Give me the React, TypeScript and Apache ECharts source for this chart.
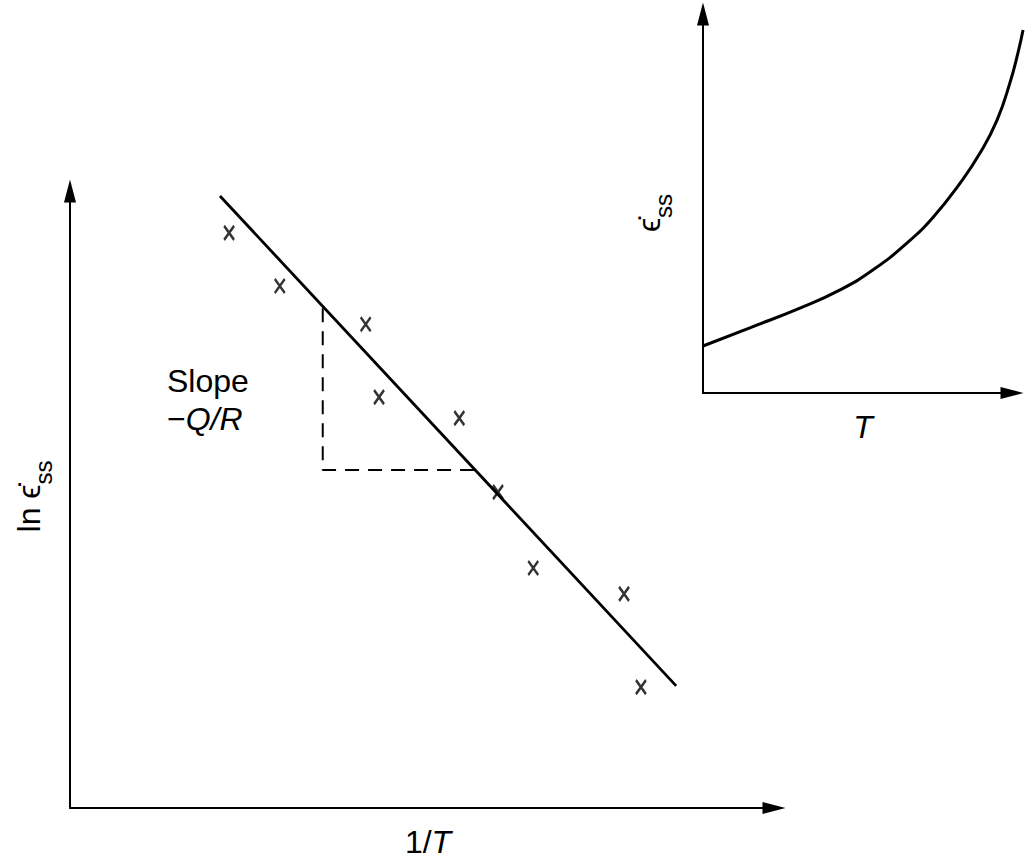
import { useEffect, useRef } from 'react';
import * as echarts from 'echarts';

// main plot: ln(strain rate) against 1/T, arbitrary units 0..100 on both axes
const fitLine = [
  [21.3, 99.2],
  [86.1, 19.8],
];
const dataPoints = [
  [22.6, 93.2],
  [29.8, 84.6],
  [42.0, 78.4],
  [43.9, 66.6],
  [55.3, 63.2],
  [60.8, 51.2],
  [65.8, 38.9],
  [78.7, 34.7],
  [81.1, 19.6],
];
// dashed slope triangle (top of vertical leg, corner, end of horizontal leg)
const slopeGuide = [
  [35.9, 81.0],
  [35.9, 54.8],
  [57.5, 54.8],
];
// inset: strain rate against T (curve runs a little past the T arrow)
const insetCurve = [
  [0, 12.4],
  [14.6, 17.2],
  [30.2, 22.4],
  [42.7, 27.2],
  [53.0, 32.5],
  [63.6, 39.6],
  [71.7, 46.4],
  [80.1, 55.4],
  [86.3, 63.3],
  [91.6, 72.0],
  [95.6, 81.8],
  [98.1, 89.7],
  [99.7, 95.8],
];

const FONT = 'Liberation Sans, Arial, sans-serif';

const axisLine = {
  show: true,
  onZero: false,
  symbol: ['none', 'triangle'],
  symbolSize: [12, 23],
  lineStyle: { color: '#000', width: 2 },
};

const bare = {
  type: 'value' as const,
  min: 0,
  max: 100,
  axisLine,
  axisTick: { show: false },
  axisLabel: { show: false },
  splitLine: { show: false },
  nameLocation: 'middle' as const,
};

const hidden = {
  type: 'value' as const,
  min: 0,
  max: 100,
  show: false,
  gridIndex: 2,
};

const epsRich = {
  m: { fontSize: 32, fontFamily: FONT, color: '#000' },
  s: { fontSize: 24, fontFamily: FONT, color: '#000', padding: [28, 0, 0, 0] },
};

const App = () => {
  const divRef = useRef<HTMLDivElement | null>(null);

  useEffect(() => {
    if (!divRef.current) return;
    const chart = echarts.init(divRef.current, null, { renderer: 'svg' });

    chart.setOption({
      animation: false,
      grid: [
        { left: 70, top: 191, width: 704, height: 617 },
        { left: 703, top: 14, width: 309, height: 379 },
        // curve of the inset, a bit wider than its axes
        { left: 703, top: 14, width: 321, height: 379 },
      ],
      xAxis: [
        {
          ...bare,
          gridIndex: 0,
          name: '{r|1/}{i|T}',
          nameGap: 18,
          nameTextStyle: {
            padding: [0, 0, 0, 12],
            rich: {
              r: { fontSize: 32, fontFamily: FONT, color: '#000' },
              i: { fontSize: 32, fontFamily: FONT, color: '#000', fontStyle: 'italic' },
            },
          },
        },
        {
          ...bare,
          gridIndex: 1,
          name: 'T',
          nameGap: 18,
          nameTextStyle: {
            fontSize: 32,
            fontFamily: FONT,
            fontStyle: 'italic',
            color: '#000',
            padding: [0, 0, 0, 11],
          },
        },
        hidden,
      ],
      yAxis: [
        {
          ...bare,
          gridIndex: 0,
          name: '{m|ln \u03F5\u0307}{s|ss}',
          nameGap: 15,
          nameTextStyle: { rich: epsRich, padding: [0, 0, 0, 6] },
        },
        {
          ...bare,
          gridIndex: 1,
          name: '{m|\u03F5\u0307}{s|ss}',
          nameGap: 28,
          nameTextStyle: { rich: epsRich, padding: [0, 19, 0, 0] },
        },
        hidden,
      ],
      graphic: [
        {
          type: 'text',
          x: 167,
          y: 381,
          style: {
            text: 'Slope',
            font: `32px ${FONT}`,
            fill: '#000',
            verticalAlign: 'middle',
          },
        },
        {
          type: 'text',
          x: 167,
          y: 419,
          style: {
            text: '{n|\u2212}{i|Q/R}',
            fill: '#000',
            verticalAlign: 'middle',
            rich: {
              n: { fontSize: 32, fontFamily: FONT, color: '#000' },
              i: { fontSize: 32, fontFamily: FONT, color: '#000', fontStyle: 'italic' },
            },
          },
        },
      ],
      series: [
        {
          type: 'line',
          xAxisIndex: 0,
          yAxisIndex: 0,
          data: fitLine,
          symbol: 'none',
          lineStyle: { color: '#000', width: 2.8 },
        },
        {
          type: 'line',
          xAxisIndex: 0,
          yAxisIndex: 0,
          data: slopeGuide,
          symbol: 'none',
          lineStyle: { color: '#000', width: 2, type: [14, 9] },
        },
        {
          type: 'scatter',
          xAxisIndex: 0,
          yAxisIndex: 0,
          data: dataPoints,
          symbol: 'path://M0,0L9,13M9,0L0,13',
          symbolSize: [10, 14],
          itemStyle: { color: 'transparent', borderColor: '#000', borderWidth: 2.6 },
        },
        {
          type: 'line',
          xAxisIndex: 2,
          yAxisIndex: 2,
          data: insetCurve,
          symbol: 'none',
          smooth: 0.5,
          clip: false,
          lineStyle: { color: '#000', width: 3 },
        },
      ],
    });

    return () => chart.dispose();
  }, []);

  return (
    <div
      ref={divRef}
      style={{ position: 'absolute', left: 0, top: 0, width: 1029, height: 863, background: '#fff' }}
    />
  );
};

export default App;
